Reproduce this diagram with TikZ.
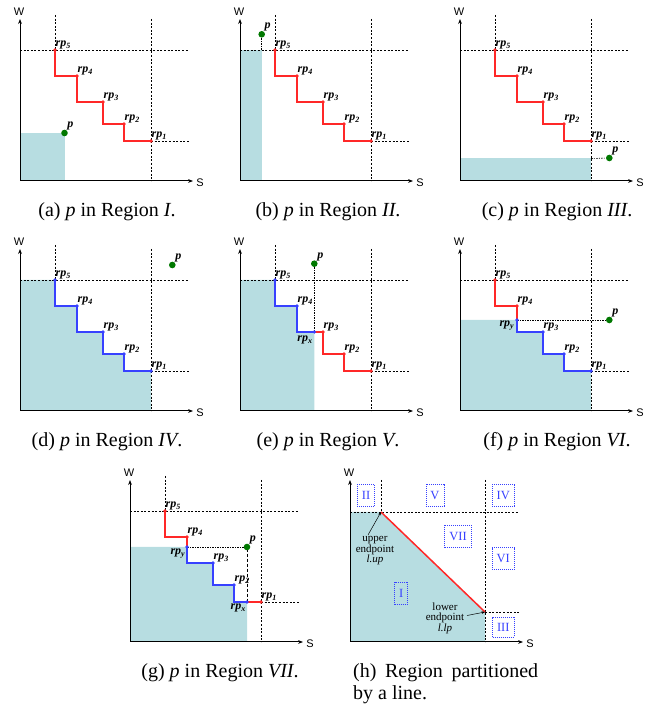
\documentclass[tikz,border=0pt]{standalone}
\usepackage{fontspec}
\setmainfont{Liberation Serif}
\newfontfamily\axfont{Liberation Sans}
\usetikzlibrary{arrows.meta}
\definecolor{bgteal}{RGB}{183,221,225}
\definecolor{stred}{RGB}{255,40,40}
\definecolor{stblue}{RGB}{55,65,255}
\definecolor{ptgreen}{RGB}{0,120,0}
\newcommand\rpl[1]{\textbf{\textit{rp}}\textsubscript{\textbf{\textit{#1}}}}
\newcommand\panelcoords{%
 \coordinate (O) at (0,0);
 \coordinate (Wt) at (0,162);
 \coordinate (St) at (173,0);
 \coordinate (r5) at (35,131);
 \coordinate (c5) at (35,105);
 \coordinate (r4) at (57,105);
 \coordinate (c4) at (57,79);
 \coordinate (r3) at (83,79);
 \coordinate (c3) at (83,57);
 \coordinate (r2) at (104,57);
 \coordinate (c2) at (104,40);
 \coordinate (r1) at (131,40);
 \coordinate (hl) at (0,131);
 \coordinate (hr) at (169,131);
 \coordinate (v5) at (35,166);
 \coordinate (v1t) at (131,162);
 \coordinate (v1b) at (131,0);
 \coordinate (h1) at (169,40);
}
\newcommand\panelgrid{%
 \draw[dline] (hl) -- (hr);
 \draw[dline] (v5) -- (r5);
 \draw[dline] (v1t) -- (v1b);
 \draw[dline] (r1) -- (h1);
 \draw[axisline] (O) -- (Wt);
 \draw[axisline] (O) -- (St);
 \node[axlab] (Wl) at (-1,169) {W};
 \node[axlab] (Sl) at (180,-2) {S};
}
\newcommand\ptdots[5]{%
 \node[#1] (d1) at (r1) {};
 \node[#2] (d2) at (r2) {};
 \node[#3] (d3) at (r3) {};
 \node[#4] (d4) at (r4) {};
 \node[#5] (d5) at (r5) {};
}
\newcommand\rplabels{%
 \node[rplab, anchor=south west] (l1) at (d1.center) {\rpl{1}};
 \node[rplab, anchor=south west] (l2) at (d2.center) {\rpl{2}};
 \node[rplab, anchor=south west] (l3) at (d3.center) {\rpl{3}};
 \node[rplab, anchor=south west] (l4) at (d4.center) {\rpl{4}};
 \node[rplab, anchor=south west] (l5) at (d5.center) {\rpl{5}};
}
\begin{document}
\begin{tikzpicture}[x=1pt,y=1pt,
 dline/.style={line width=0.7pt, dash pattern=on 2pt off 1.6pt},
 proj/.style={line width=0.6pt, dash pattern=on 2pt off 1.2pt on 0.6pt off 1.2pt},
 axisline/.style={line width=1pt, -{Stealth[length=5pt,width=3.8pt]}},
 axlab/.style={font=\axfont\fontsize{11}{11}\selectfont, inner sep=0},
 redline/.style={stred, line width=1.1pt},
 blueline/.style={stblue, line width=1.1pt},
 rdot/.style={circle, fill=stred, inner sep=0, minimum size=3.6pt},
 bdot/.style={circle, fill=stblue, inner sep=0, minimum size=3.6pt},
 gdot/.style={circle, fill=ptgreen, inner sep=0, minimum size=6.6pt},
 rplab/.style={font=\fontsize{12}{12}\selectfont, inner sep=0.5pt},
 plab/.style={font=\fontsize{12}{12}\selectfont, inner sep=0.3pt, anchor=south west},
 captext/.style={font=\fontsize{20}{22}\selectfont, inner sep=0},
 regbox/.style={draw=stblue, line width=0.8pt, dash pattern=on 1pt off 1pt, text=stblue, font=\fontsize{12.5}{12.5}\selectfont, minimum height=22pt, inner xsep=4.5pt, inner ysep=0pt},
 hlab/.style={font=\fontsize{11}{10.5}\selectfont, align=center, inner sep=0},
 harrow/.style={line width=0.5pt, -{Stealth[length=3.5pt,width=2.6pt]}}
]
\useasboundingbox (0,0) rectangle (657,711);

% (a)
\begin{scope}[shift={(20,530)}, name prefix=a-]
 \panelcoords
 \coordinate (pp) at (44.5,48);
 \fill[bgteal] (O) rectangle (pp);
 \panelgrid
 \draw[redline] (r5) -- (c5) -- (r4) -- (c4) -- (r3) -- (c3) -- (r2) -- (c2) -- (r1);
 \ptdots{rdot}{rdot}{rdot}{rdot}{rdot}
 \rplabels
 \node[gdot] (p) at (pp) {};
 \node[plab] (pl) at (p.north east) {\textbf{\textit{p}}};
\end{scope}

% (b)
\begin{scope}[shift={(240,530)}, name prefix=b-]
 \panelcoords
 \coordinate (pb) at (21.7,131);
 \fill[bgteal] (O) rectangle (pb);
 \panelgrid
 \draw[redline] (r5) -- (c5) -- (r4) -- (c4) -- (r3) -- (c3) -- (r2) -- (c2) -- (r1);
 \ptdots{rdot}{rdot}{rdot}{rdot}{rdot}
 \rplabels
 \node[gdot] (p) at (21.7,146.7) {};
 \draw[proj] (p) -- (pb);
 \node[plab] (pl) at (p.north east) {\textbf{\textit{p}}};
\end{scope}

% (c)
\begin{scope}[shift={(460,530)}, name prefix=c-]
 \panelcoords
 \coordinate (pc) at (131,22.5);
 \fill[bgteal] (O) rectangle (pc);
 \panelgrid
 \draw[redline] (r5) -- (c5) -- (r4) -- (c4) -- (r3) -- (c3) -- (r2) -- (c2) -- (r1);
 \ptdots{rdot}{rdot}{rdot}{rdot}{rdot}
 \rplabels
 \node[gdot] (p) at (149.3,23) {};
 \draw[proj] (pc) -- (p);
 \node[plab] (pl) at (p.north east) {\textbf{\textit{p}}};
\end{scope}

% (d)
\begin{scope}[shift={(20,300)}, name prefix=d-]
 \panelcoords
 \fill[bgteal] (O) -- (hl) -- (r5) -- (c5) -- (r4) -- (c4) -- (r3) -- (c3) -- (r2) -- (c2) -- (r1) -- (v1b) -- cycle;
 \panelgrid
 \draw[blueline] (r5) -- (c5) -- (r4) -- (c4) -- (r3) -- (c3) -- (r2) -- (c2) -- (r1);
 \ptdots{bdot}{bdot}{bdot}{bdot}{bdot}
 \rplabels
 \node[gdot] (p) at (152.3,146) {};
 \node[plab] (pl) at (p.north east) {\textbf{\textit{p}}};
\end{scope}

% (e)
\begin{scope}[shift={(240,300)}, name prefix=e-]
 \panelcoords
 \coordinate (rx) at (74.3,79);
 \coordinate (rxb) at (74.3,0);
 \fill[bgteal] (O) -- (hl) -- (r5) -- (c5) -- (r4) -- (c4) -- (rx) -- (rxb) -- cycle;
 \panelgrid
 \draw[blueline] (r5) -- (c5) -- (r4) -- (c4) -- (rx);
 \draw[redline] (rx) -- (r3) -- (c3) -- (r2) -- (c2) -- (r1);
 \ptdots{rdot}{rdot}{rdot}{bdot}{bdot}
 \node[gdot] (p) at (74.3,147.3) {};
 \draw[proj] (p) -- (rx);
 \node[bdot] (dx) at (rx) {};
 \rplabels
 \node[rplab, anchor=north east] (lx) at ([shift={(-1,-3)}]dx.center) {\rpl{x}};
 \node[plab] (pl) at (p.north east) {\textbf{\textit{p}}};
\end{scope}

% (f)
\begin{scope}[shift={(460,300)}, name prefix=f-]
 \panelcoords
 \coordinate (ry) at (57,91);
 \coordinate (ryl) at (0,91);
 \fill[bgteal] (O) -- (ryl) -- (ry) -- (c4) -- (r3) -- (c3) -- (r2) -- (c2) -- (r1) -- (v1b) -- cycle;
 \panelgrid
 \draw[redline] (r5) -- (c5) -- (r4) -- (ry);
 \draw[blueline] (ry) -- (c4) -- (r3) -- (c3) -- (r2) -- (c2) -- (r1);
 \node[gdot] (p) at (149.3,91) {};
 \draw[proj] (ry) -- (p);
 \ptdots{bdot}{bdot}{bdot}{rdot}{rdot}
 \node[bdot] (dy) at (ry) {};
 \rplabels
 \node[rplab, anchor=north east] (ly) at ([shift={(-2,-0.5)}]dy.center) {\rpl{y}};
 \node[plab] (pl) at (p.north east) {\textbf{\textit{p}}};
\end{scope}

% (g)
\begin{scope}[shift={(130,69)}, name prefix=g-]
 \panelcoords
 \coordinate (ry) at (57,95);
 \coordinate (ryl) at (0,95);
 \coordinate (rx) at (117,40);
 \coordinate (rxb) at (117,0);
 \fill[bgteal] (O) -- (ryl) -- (ry) -- (c4) -- (r3) -- (c3) -- (r2) -- (c2) -- (rx) -- (rxb) -- cycle;
 \panelgrid
 \draw[redline] (r5) -- (c5) -- (r4) -- (ry);
 \draw[blueline] (ry) -- (c4) -- (r3) -- (c3) -- (r2) -- (c2) -- (rx);
 \draw[redline] (rx) -- (r1);
 \node[gdot] (p) at (117,95) {};
 \draw[proj] (ry) -- (p);
 \draw[proj] (p) -- (rx);
 \ptdots{rdot}{bdot}{bdot}{rdot}{rdot}
 \node[bdot] (dy) at (ry) {};
 \node[bdot] (dx) at (rx) {};
 \rplabels
 \node[rplab, anchor=north east] (ly) at ([shift={(-1,-1)}]dy.center) {\rpl{y}};
 \node[rplab, anchor=north east] (lx) at ([shift={(-0.5,-1.5)}]dx.center) {\rpl{x}};
 \node[plab] (pl) at (p.north east) {\textbf{\textit{p}}};
\end{scope}

% (h)
\begin{scope}[shift={(350,69)}, name prefix=h-]
 \coordinate (O) at (0,0);
 \coordinate (Wt) at (0,162);
 \coordinate (St) at (173,0);
 \coordinate (up) at (31,130);
 \coordinate (lp) at (135,30);
 \coordinate (hl) at (0,130);
 \coordinate (hr) at (169,130);
 \coordinate (vt) at (31,162);
 \coordinate (v2t) at (135,162);
 \coordinate (v2b) at (135,0);
 \coordinate (h2) at (169,30);
 \fill[bgteal] (O) -- (hl) -- (up) -- (lp) -- (v2b) -- cycle;
 \draw[dline] (hl) -- (hr);
 \draw[dline] (vt) -- (up);
 \draw[dline] (v2t) -- (v2b);
 \draw[dline] (lp) -- (h2);
 \draw[axisline] (O) -- (Wt);
 \draw[axisline] (O) -- (St);
 \node[axlab] (Wl) at (-1,169) {W};
 \node[axlab] (Sl) at (180,-2) {S};
 \draw[stred, line width=1.5pt] (up) -- (lp);
 \node[regbox] (bII) at (16,146.7) {II};
 \node[regbox] (bV) at (85,146.7) {V};
 \node[regbox] (bIV) at (153.3,146.7) {IV};
 \node[regbox] (bVII) at (108,105.7) {VII};
 \node[regbox] (bVI) at (153.3,83.3) {VI};
 \node[regbox] (bI) at (51.3,49) {I};
 \node[regbox, minimum height=20pt] (bIII) at (153.3,15) {III};
 \node[hlab] (ul) at (25,91) {upper\\endpoint\\\textit{l.up}};
 \node[hlab] (ll) at (95,24) {lower\\endpoint\\\textit{l.lp}};
 \coordinate (ua) at (18,107);
 \coordinate (la) at (117,26.5);
 \draw[harrow] (ua) -- (up);
 \draw[harrow] (la) -- (lp);
\end{scope}

% captions
\node[captext] (ca) at (107,499) {(a) \textit{p} in Region \textit{I}.};
\node[captext] (cb) at (328,499) {(b) \textit{p} in Region \textit{II}.};
\node[captext] (cc) at (557,499) {(c) \textit{p} in Region \textit{III}.};
\node[captext] (cd) at (107,269) {(d) \textit{p} in Region \textit{IV}.};
\node[captext] (ce) at (328,269) {(e) \textit{p} in Region \textit{V}.};
\node[captext] (cf) at (557,269) {(f) \textit{p} in Region \textit{VI}.};
\node[captext] (cg) at (220,38) {(g) \textit{p} in Region \textit{VII}.};
\node[captext, anchor=west] (ch1) at (353,38) {\makebox[185pt][s]{(h) Region partitioned}};
\node[captext, anchor=west] (ch2) at (353,16) {by a line.};
\end{tikzpicture}
\end{document}
